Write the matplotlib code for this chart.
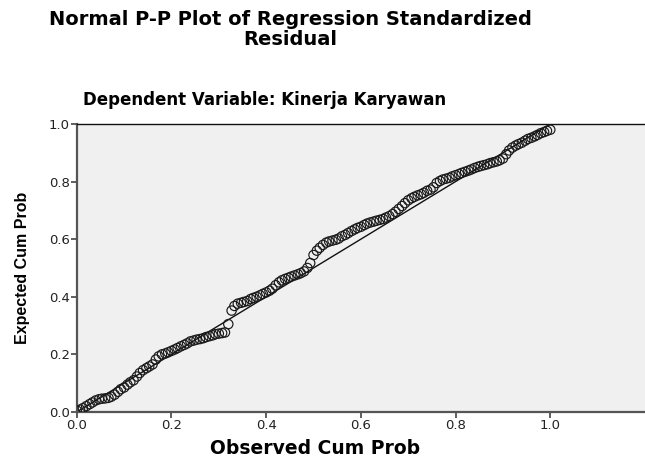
import matplotlib
matplotlib.use("Agg")
import matplotlib.pyplot as plt

plt.rcParams['font.family'] = ['DejaVu Sans']

# Observed vs expected cumulative probability
observed = [0.000, 0.007, 0.013, 0.020, 0.027, 0.033, 0.040, 0.047, 0.053, 0.060, 0.067, 0.073, 0.080, 0.087, 0.093,
            0.100, 0.107, 0.113, 0.120, 0.127, 0.133, 0.140, 0.147, 0.153, 0.160, 0.167, 0.173, 0.180, 0.187, 0.193,
            0.200, 0.207, 0.213, 0.220, 0.227, 0.233, 0.240, 0.247, 0.253, 0.260, 0.267, 0.273, 0.280, 0.287, 0.293,
            0.300, 0.307, 0.313, 0.320, 0.327, 0.333, 0.340, 0.347, 0.353, 0.360, 0.367, 0.373, 0.380, 0.387, 0.393,
            0.400, 0.407, 0.413, 0.420, 0.427, 0.433, 0.440, 0.447, 0.453, 0.460, 0.467, 0.473, 0.480, 0.487, 0.493,
            0.500, 0.507, 0.513, 0.520, 0.527, 0.533, 0.540, 0.547, 0.553, 0.560, 0.567, 0.573, 0.580, 0.587, 0.593,
            0.600, 0.607, 0.613, 0.620, 0.627, 0.633, 0.640, 0.647, 0.653, 0.660, 0.667, 0.673, 0.680, 0.687, 0.693,
            0.700, 0.707, 0.713, 0.720, 0.727, 0.733, 0.740, 0.747, 0.753, 0.760, 0.767, 0.773, 0.780, 0.787, 0.793,
            0.800, 0.807, 0.813, 0.820, 0.827, 0.833, 0.840, 0.847, 0.853, 0.860, 0.867, 0.873, 0.880, 0.887, 0.893,
            0.900, 0.907, 0.913, 0.920, 0.927, 0.933, 0.940, 0.947, 0.953, 0.960, 0.967, 0.973, 0.980, 0.987, 0.993,
            1.000]
expected = [0.005, 0.008, 0.013, 0.020, 0.027, 0.033, 0.040, 0.044, 0.046, 0.047, 0.049, 0.053, 0.060, 0.070, 0.079,
            0.085, 0.095, 0.103, 0.110, 0.123, 0.135, 0.145, 0.152, 0.158, 0.165, 0.182, 0.193, 0.200, 0.203, 0.207,
            0.212, 0.217, 0.222, 0.228, 0.233, 0.238, 0.245, 0.248, 0.251, 0.253, 0.256, 0.260, 0.263, 0.266, 0.270,
            0.272, 0.274, 0.276, 0.305, 0.352, 0.368, 0.376, 0.379, 0.382, 0.385, 0.392, 0.396, 0.400, 0.405, 0.410,
            0.415, 0.421, 0.428, 0.440, 0.450, 0.457, 0.462, 0.466, 0.470, 0.474, 0.478, 0.482, 0.488, 0.500, 0.517,
            0.545, 0.560, 0.570, 0.580, 0.588, 0.592, 0.595, 0.598, 0.602, 0.610, 0.615, 0.621, 0.628, 0.634, 0.639,
            0.643, 0.649, 0.654, 0.658, 0.661, 0.664, 0.667, 0.670, 0.675, 0.680, 0.687, 0.695, 0.705, 0.715, 0.725,
            0.735, 0.742, 0.747, 0.752, 0.756, 0.761, 0.768, 0.772, 0.780, 0.795, 0.802, 0.807, 0.810, 0.813, 0.818,
            0.822, 0.826, 0.830, 0.834, 0.838, 0.842, 0.847, 0.851, 0.854, 0.857, 0.860, 0.864, 0.867, 0.870, 0.874,
            0.880, 0.895, 0.908, 0.918, 0.925, 0.930, 0.935, 0.942, 0.948, 0.952, 0.957, 0.962, 0.968, 0.972, 0.976,
            0.980]
ticks = [0.0, 0.2, 0.4, 0.6, 0.8, 1.0]
tick_labels = ["0.0", "0.2", "0.4", "0.6", "0.8", "1.0"]

fig = plt.figure(figsize=(6.45, 4.66), dpi=100)
ax = fig.add_axes([0.119, 0.116, 0.881, 0.618])
ax.set_facecolor("#f0f0f0")

# reference line
ax.plot([0, 1], [0, 1], color="#111111", lw=1.0, zorder=2)
ax.scatter(observed, expected, s=45, facecolors="none", edgecolors="#1a1a1a",
           linewidths=0.85, zorder=3)

ax.set_xlim(0, 1.2)
ax.set_ylim(0, 1.0)
ax.set_xticks(ticks)
ax.set_xticklabels(tick_labels)
ax.set_yticks(ticks)
ax.set_yticklabels(tick_labels)
ax.tick_params(direction="out", length=4, width=1.2, color="#444444",
               labelsize=9.5, labelcolor="#222222", pad=1)

for side in ["left", "bottom"]:
    ax.spines[side].set_linewidth(1.6)
    ax.spines[side].set_color("#555555")
ax.spines["top"].set_linewidth(1.0)
ax.spines["top"].set_color("#111111")
ax.spines["right"].set_visible(False)

ax.set_xlabel("Observed Cum Prob", fontsize=13.5, fontweight="bold")
ax.xaxis.set_label_coords(0.419, -0.095)
ax.set_ylabel("Expected Cum Prob", fontsize=11.5, fontweight="bold",
              family=["Liberation Sans", "DejaVu Sans"])
ax.yaxis.set_label_coords(-0.082, 0.5)

fig.text(0.45, 0.958, "Normal P-P Plot of Regression Standardized",
         ha="center", va="center", fontsize=14, fontweight="bold")
fig.text(0.45, 0.915, "Residual", ha="center", va="center",
         fontsize=14, fontweight="bold")
fig.text(0.41, 0.785, "Dependent Variable: Kinerja Karyawan",
         ha="center", va="center", fontsize=12, fontweight="bold")

fig.savefig("out.png", dpi=100)
